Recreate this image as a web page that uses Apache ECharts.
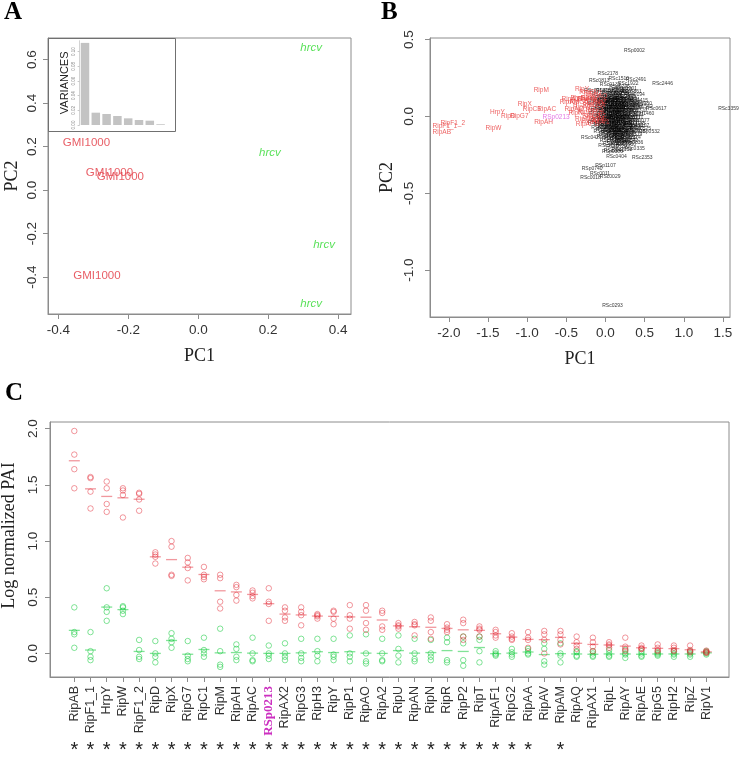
<!DOCTYPE html>
<html><head><meta charset="utf-8">
<script src="https://cdn.jsdelivr.net/npm/echarts@6/dist/echarts.min.js"></script>
<style>html,body{margin:0;padding:0;background:#fff}#c{width:740px;height:757px}</style>
</head><body><div id="c"></div>
<script>
// ---------- Panel A ----------
const pcaGMI = [['GMI1000',-0.32,0.216],['GMI1000',-0.254,0.078],['GMI1000',-0.223,0.06],['GMI1000',-0.29,-0.395]];
const pcaHrcv = [['hrcv',0.323,0.653],['hrcv',0.205,0.17],['hrcv',0.36,-0.253],['hrcv',0.323,-0.524]];
const varianceComp = ['1','2','3','4','5','6','7','8'];
const varianceVals = [0.112,0.0168,0.015,0.0123,0.0091,0.0068,0.0059,0.001];
const ticksAx = [-0.4,-0.2,0,0.2,0.4];
const ticksAy = [-0.4,-0.2,0,0.2,0.4,0.6];
const ticksInset = [0,0.02,0.04,0.06,0.08,0.10];
// ---------- Panel B ----------
const ripPos = [
 ['RipAB',-2.09,-0.10],['RipF1_1',-2.05,-0.065],['RipF1_2',-1.95,-0.045],['HrpY',-1.38,0.03],['RipW',-1.43,-0.08],
 ['RipD',-1.24,0.0],['RipG7',-1.10,0.0],['RipX',-1.03,0.08],['RipC1',-0.94,0.05],['RipM',-0.82,0.17],
 ['RipAC',-0.75,0.045],['RipAH',-0.79,-0.04],
 ['RipAX2',-0.42,0.11],['RipG3',-0.33,0.12],['RipH3',-0.24,0.11],['RipY',-0.30,0.18],['RipP1',-0.22,0.16],
 ['RipAO',-0.40,0.05],['RipA2',-0.30,0.06],['RipU',-0.20,0.07],['RipAN',-0.15,0.10],['RipN',-0.38,0.02],
 ['RipR',-0.26,0.03],['RipP2',-0.14,0.04],['RipT',-0.30,-0.02],['RipAF1',-0.24,-0.05],['RipG2',-0.18,0.0],
 ['RipAA',-0.12,0.07],['RipAV',-0.12,0.0],['RipAM',-0.46,0.09],['RipAQ',-0.10,0.13],['RipAX1',-0.16,-0.03],
 ['RipL',-0.08,0.03],['RipAY',-0.20,0.12],['RipAE',-0.10,-0.02],['RipG5',-0.34,0.09],['RipH2',-0.16,0.15],
 ['RipZ',-0.07,0.09],['RipV1',-0.06,-0.04]
];
const rspPos = [['RSp0213',-0.63,-0.005]];
const rsGenes = [
 ['RSp0002',0.37,0.43],['RSc2178',0.03,0.28],['RSc0813',-0.08,0.23],['RSc1510',0.17,0.245],['RSc2491',0.39,0.24],
 ['RSc2446',0.73,0.21],['RSp1201',0.27,0.18],['RSc0914',-0.14,0.17],['RSc0617',0.65,0.05],['RSp1562',0.47,0.065],
 ['RSc3359',1.57,0.05],['RSp0532',0.56,-0.10],['RSc1107',0.43,-0.06],['RSc0427',-0.18,-0.14],['RSc0335',0.37,-0.21],
 ['RSp0300',0.09,-0.23],['RSc0404',0.14,-0.26],['RSc2353',0.47,-0.27],['RSp1107',0.0,-0.32],['RSp0740',-0.17,-0.34],
 ['RSc0011',-0.07,-0.37],['RSc0018',-0.19,-0.40],['RSc0029',0.06,-0.39],['RSc0293',0.09,-1.23],
 ['RSc0131',0.06,0.205],['RSc0245',0.18,0.195],['RSc1922',0.29,0.21],
 ['RSc0370',0.01,0.17],['RSc0512',0.11,0.165],['RSc1003',0.21,0.175],['RSp0861',0.33,0.16],
 ['RSc2210',-0.04,0.14],['RSc0658',0.07,0.135],['RSc1450',0.15,0.145],['RSc2805',0.26,0.13],['RSp0194',0.37,0.14],
 ['RSc0722',-0.07,0.11],['RSc0947',0.03,0.105],['RSc1188',0.12,0.115],['RSc1376',0.21,0.10],['RSc1691',0.31,0.11],['RSp0415',0.41,0.10],
 ['RSc0088',-0.09,0.08],['RSc0183',0.01,0.075],['RSc0299',0.09,0.085],['RSc0411',0.17,0.07],['RSc0576',0.26,0.08],['RSc0693',0.35,0.075],['RSp0980',0.46,0.085],
 ['RSc0812',-0.05,0.05],['RSc0930',0.05,0.045],['RSc1061',0.13,0.055],['RSc1174',0.22,0.04],['RSc1297',0.31,0.05],['RSp1320',0.40,0.04],
 ['RSc1402',-0.08,0.02],['RSc1533',0.02,0.015],['RSc1647',0.10,0.025],['RSc1759',0.18,0.01],['RSc1866',0.27,0.02],['RSc1971',0.36,0.01],['RSp1460',0.49,0.015],
 ['RSc2083',-0.04,-0.01],['RSc2196',0.05,-0.015],['RSc2302',0.14,-0.005],['RSc2418',0.23,-0.02],['RSc2527',0.32,-0.01],['RSp0077',0.43,-0.025],
 ['RSc2639',-0.09,-0.04],['RSc2741',0.01,-0.045],['RSc2856',0.10,-0.035],['RSc2963',0.19,-0.05],['RSc3071',0.28,-0.04],['RSc3185',0.38,-0.05],
 ['RSc3290',-0.05,-0.07],['RSc0052',0.04,-0.075],['RSc0163',0.13,-0.065],['RSc0278',0.22,-0.08],['RSc0389',0.33,-0.07],['RSp0525',0.45,-0.08],
 ['RSc0494',-0.02,-0.10],['RSc0605',0.08,-0.105],['RSc0716',0.17,-0.095],['RSc0827',0.27,-0.11],['RSc0938',0.38,-0.10],
 ['RSc1049',0.02,-0.13],['RSc1152',0.12,-0.135],['RSc1263',0.22,-0.125],['RSc1374',0.32,-0.14],
 ['RSc1485',0.06,-0.16],['RSc1596',0.15,-0.165],['RSc1607',0.25,-0.155],['RSp0636',0.35,-0.17],
 ['RSc1718',0.04,-0.19],['RSc1829',0.14,-0.195],['RSc1930',0.26,-0.185],
 ['RSc2041',0.11,-0.22],['RSc2152',0.21,-0.215],
 ['RSc0104',0.00,0.125],['RSc0117',0.09,0.12],['RSc0128',0.18,0.13],['RSc0139',0.27,0.115],
 ['RSc0141',-0.03,0.095],['RSc0152',0.06,0.10],['RSc0166',0.14,0.09],['RSc0177',0.23,0.095],['RSc0188',0.32,0.09],
 ['RSc0195',-0.01,0.06],['RSc0206',0.08,0.065],['RSc0217',0.16,0.055],['RSc0228',0.25,0.06],['RSc0239',0.34,0.055],
 ['RSc0241',-0.06,0.035],['RSc0253',0.04,0.03],['RSc0264',0.12,0.035],['RSc0275',0.20,0.025],['RSc0286',0.29,0.035],
 ['RSc0297',0.00,0.0],['RSc0308',0.08,0.005],['RSc0319',0.17,-0.01],['RSc0320',0.26,0.005],['RSc0331',0.35,-0.005],
 ['RSc0342',-0.06,-0.025],['RSc0353',0.03,-0.03],['RSc0364',0.12,-0.02],['RSc0375',0.21,-0.035],['RSc0386',0.30,-0.025],
 ['RSc0397',-0.02,-0.055],['RSc0408',0.07,-0.06],['RSc0419',0.16,-0.05],['RSc0420',0.25,-0.065],['RSc0431',0.35,-0.06],
 ['RSc0442',0.01,-0.085],['RSc0453',0.11,-0.09],['RSc0464',0.20,-0.08],['RSc0475',0.30,-0.09],
 ['RSc0486',0.05,-0.115],['RSc0497',0.15,-0.12],['RSc0508',0.24,-0.105],['RSc0519',0.34,-0.12],
 ['RSc0521',0.09,-0.145],['RSc0532',0.19,-0.15],['RSc0543',0.29,-0.16],['RSc0554',0.10,-0.18],['RSc0565',0.20,-0.175],
 ['RSc0601',0.03,0.11],['RSc0612',0.13,0.105],['RSc0623',0.22,0.115],['RSc0634',0.02,0.085],['RSc0645',0.11,0.075],
 ['RSc0656',0.20,0.085],['RSc0667',0.29,0.07],['RSc0678',0.03,0.055],['RSc0689',0.12,0.045],['RSc0690',0.21,0.055],
 ['RSc0701',0.06,0.02],['RSc0712',0.15,0.015],['RSc0723',0.23,0.03],['RSc0734',0.02,-0.005],['RSc0745',0.10,-0.01],
 ['RSc0756',0.19,0.0],['RSc0767',0.28,-0.005],['RSc0778',0.05,-0.04],['RSc0789',0.14,-0.035],['RSc0790',0.23,-0.045],
 ['RSc0801',0.03,-0.065],['RSc0812',0.12,-0.075],['RSc0823',0.21,-0.06],['RSc0834',0.07,-0.09],['RSc0845',0.16,-0.105],
 ['RSc0856',0.25,-0.09],['RSc0867',0.09,-0.125],['RSc0878',0.18,-0.13],['RSc0889',0.27,-0.135],['RSc0890',0.08,0.15],
 ['RSc0901',0.16,0.16],['RSc0912',0.24,0.15]
];
const ticksBx = [-2,-1.5,-1,-0.5,0,0.5,1,1.5];
const ticksBy = [-1,-0.5,0,0.5];
// ---------- Panel C ----------
const categories = ['RipAB','RipF1_1','HrpY','RipW','RipF1_2','RipD','RipX','RipG7','RipC1','RipM','RipAH','RipAC','RSp0213','RipAX2','RipG3','RipH3','RipY','RipP1','RipAO','RipA2','RipU','RipAN','RipN','RipR','RipP2','RipT','RipAF1','RipG2','RipAA','RipAV','RipAM','RipAQ','RipAX1','RipL','RipAY','RipAE','RipG5','RipH2','RipZ','RipV1'];
const paiGMI = [
 [1.98,1.77,1.64,1.47],[1.57,1.56,1.44,1.29],[1.53,1.47,1.33,1.26],[1.47,1.45,1.41,1.21],[1.43,1.42,1.37,1.27],
 [0.90,0.88,0.86,0.80],[1.00,0.95,0.70,0.69],[0.85,0.81,0.76,0.65],[0.77,0.70,0.68,0.66],[0.70,0.67,0.46,0.40],
 [0.61,0.59,0.52,0.47],[0.56,0.54,0.51,0.49],[0.58,0.46,0.44,0.29],[0.41,0.38,0.32,0.29],[0.41,0.37,0.34,0.25],
 [0.35,0.34,0.33,0.31],[0.38,0.37,0.31,0.26],[0.43,0.34,0.31,0.22],[0.43,0.38,0.27,0.21],[0.38,0.36,0.24,0.21],
 [0.27,0.25,0.24,0.22],[0.28,0.26,0.25,0.16],[0.32,0.29,0.19,0.13],[0.26,0.23,0.21,0.19],[0.30,0.27,0.15,0.12],
 [0.24,0.22,0.21,0.15],[0.21,0.19,0.16,0.14],[0.18,0.15,0.13,0.12],[0.19,0.14,0.12,0.05],[0.20,0.17,0.12,0.0],
 [0.20,0.17,0.12,0.08],[0.15,0.10,0.07,0.04],[0.14,0.10,0.06,0.02],[0.10,0.08,0.07,0.05],[0.14,0.06,0.04,0.02],
 [0.07,0.05,0.04,0.04],[0.08,0.05,0.03,0.02],[0.07,0.05,0.03,0.02],[0.07,0.03,0.02,0.01],[0.025,0.015,0.01,0.005]
];
const paiHrcv = [
 [0.41,0.19,0.17,0.05],[0.19,0.02,-0.03,-0.06],[0.58,0.41,0.37,0.29],[0.42,0.41,0.38,0.35],[0.12,0.03,-0.03,-0.05],
 [0.11,0.0,-0.03,-0.08],[0.18,0.13,0.10,0.05],[0.11,-0.02,-0.05,-0.07],[0.14,0.03,0.0,-0.03],[0.22,0.02,-0.10,-0.12],
 [0.08,0.04,-0.03,-0.06],[0.14,0.0,-0.06,-0.07],[0.07,0.0,-0.02,-0.05],[0.09,0.0,-0.03,-0.06],[0.13,0.0,-0.04,-0.07],
 [0.13,0.02,-0.02,-0.07],[0.13,-0.01,-0.03,-0.06],[0.16,0.0,-0.03,-0.07],[0.17,0.0,-0.07,-0.09],[0.13,0.0,-0.06,-0.07],
 [0.16,0.04,-0.02,-0.08],[0.13,0.0,-0.05,-0.07],[0.12,0.0,-0.03,-0.06],[0.14,0.10,-0.06,-0.08],[0.15,0.09,-0.06,-0.11],
 [0.15,0.12,0.02,-0.08],[0.02,0.0,-0.01,-0.02],[0.04,0.01,-0.01,-0.03],[0.04,0.02,0.0,-0.01],[0.09,0.04,-0.07,-0.10],
 [0.09,0.0,-0.02,-0.08],[0.02,0.01,-0.02,-0.03],[0.02,0.0,-0.02,-0.03],[0.03,0.0,-0.02,-0.03],[0.03,0.0,-0.01,-0.04],
 [0.02,0.0,-0.02,-0.03],[0.01,0.0,-0.01,-0.02],[0.02,0.0,-0.01,-0.03],[0.02,0.0,-0.01,-0.03],[0.02,0.01,0.0,-0.01]
];
const significant = [1,1,1,1,1,1,1,1,1,1,1,1,1,1,1,1,1,1,1,1,1,1,1,1,1,1,1,1,1,0,1,0,0,0,0,0,0,0,0,0];
const ticksCy = [0,0.5,1,1.5,2];

// ---------- build ----------
const catIdx = categories.map((_, i) => i);
const starIdx = catIdx.filter(i => significant[i] === 1);
const mean = a => a.reduce((s, v) => s + v, 0) / a.length;
const pts = arr => { const o = []; arr.forEach((a, i) => a.forEach(v => o.push([i, v]))); return o; };
const means = arr => arr.map((a, i) => [i, mean(a)]);
const lbl = arr => arr.map(d => ({ name: d[0], value: [d[1], d[2]] }));

const GRID = '#8c8c8c', TXT = '#333';
const serif = 'Liberation Serif';
const fmt1 = v => (Math.abs(v) < 1e-9 ? 0 : v).toFixed(1);
const lineOn = { show: true, onZero: false, lineStyle: { color: GRID, width: 1 } };

function valAxis(g, min, max, ticks, extra) {
  return Object.assign({
    gridIndex: g, type: 'value', min: min, max: max,
    axisLine: lineOn, splitLine: { show: false },
    axisTick: { show: true, customValues: ticks, length: 5, lineStyle: { color: GRID } },
    axisLabel: { customValues: ticks, formatter: fmt1, fontSize: 13.5, color: TXT, margin: 9, fontFamily: 'Liberation Sans' }
  }, extra || {});
}
const nameStyle = { fontFamily: serif, fontSize: 18, color: '#222' };

const textScatter = (data, xi, yi, style, z) => ({
  type: 'scatter', xAxisIndex: xi, yAxisIndex: yi, data: data, symbolSize: 1, silent: true, z: z || 3,
  itemStyle: { color: 'rgba(0,0,0,0)' },
  label: Object.assign({ show: true, position: 'inside', formatter: '{b}', fontFamily: 'Liberation Sans' }, style)
});

const RED = 'rgba(226,40,52,0.6)', GREEN = 'rgba(30,205,70,0.7)';
const circles = (data, col) => ({
  type: 'scatter', xAxisIndex: 2, yAxisIndex: 2, data: data, symbol: 'circle', symbolSize: 5.5, silent: true,
  itemStyle: { color: 'rgba(0,0,0,0)', borderColor: col, borderWidth: 1 }
});
const dashes = (data, col) => ({
  type: 'scatter', xAxisIndex: 2, yAxisIndex: 2, data: data, symbol: 'rect', symbolSize: [11, 1.3], silent: true,
  itemStyle: { color: col }
});

const gridBase = { show: true, borderColor: GRID, borderWidth: 1, containLabel: false, outerBoundsMode: 'none', backgroundColor: 'transparent' };

const option = {
  animation: false,
  backgroundColor: '#fff',
  textStyle: { fontFamily: 'Liberation Sans' },
  title: [
    { text: 'A', left: 4, top: 0, padding: 0, textStyle: { fontFamily: serif, fontWeight: 'bold', fontSize: 25, color: '#000' } },
    { text: 'B', left: 381, top: 0, padding: 0, textStyle: { fontFamily: serif, fontWeight: 'bold', fontSize: 25, color: '#000' } },
    { text: 'C', left: 5, top: 381, padding: 0, textStyle: { fontFamily: serif, fontWeight: 'bold', fontSize: 25, color: '#000' } }
  ],
  grid: [
    Object.assign({ left: 48, top: 38, width: 303, height: 276 }, gridBase),
    Object.assign({ left: 430, top: 38, width: 300, height: 279 }, gridBase),
    Object.assign({ left: 50, top: 422, width: 679, height: 255 }, gridBase),
    { left: 79.6, top: 40.7, width: 86.4, height: 84.3, show: false, containLabel: false, outerBoundsMode: 'none' }
  ],
  graphic: [{ type: 'rect', shape: { x: 48.5, y: 38.5, width: 127, height: 93 }, style: { fill: 'none', stroke: '#707070', lineWidth: 1 }, z: 10, silent: true }],
  xAxis: [
    valAxis(0, -0.43, 0.437, ticksAx, { name: 'PC1', nameLocation: 'middle', nameGap: 33, nameTextStyle: nameStyle }),
    valAxis(1, -2.24, 1.59, ticksBx, { name: 'PC1', nameLocation: 'middle', nameGap: 33, nameTextStyle: nameStyle }),
    {
      gridIndex: 2, type: 'value', min: -1.5, max: 40.4,
      axisLine: lineOn, splitLine: { show: false },
      axisTick: { show: true, customValues: catIdx, length: 5, lineStyle: { color: GRID } },
      axisLabel: {
        customValues: catIdx, rotate: 90, margin: 9, fontSize: 12.5, color: TXT,
        formatter: v => { const n = categories[Math.round(v)]; return n === 'RSp0213' ? '{m|' + n + '}' : n; },
        rich: { m: { color: '#cc2fc0', fontFamily: serif, fontWeight: 'bold', fontSize: 13 } }
      }
    },
    {
      gridIndex: 2, type: 'value', min: -1.5, max: 40.4, position: 'bottom',
      axisLine: { show: false, onZero: false }, axisTick: { show: false }, splitLine: { show: false },
      axisLabel: { customValues: starIdx, formatter: () => '*', fontSize: 20, color: '#222', margin: 63 }
    },
    { gridIndex: 3, type: 'category', data: varianceComp, show: false }
  ],
  yAxis: [
    valAxis(0, -0.57, 0.70, ticksAy, { name: 'PC2', nameLocation: 'middle', nameGap: 27, nameTextStyle: nameStyle,
      axisLabel: { customValues: ticksAy, formatter: fmt1, fontSize: 13.5, color: TXT, margin: 9, rotate: 90 } }),
    valAxis(1, -1.305, 0.51, ticksBy, { name: 'PC2', nameLocation: 'middle', nameGap: 34, nameTextStyle: nameStyle,
      axisLabel: { customValues: ticksBy, formatter: fmt1, fontSize: 13.5, color: TXT, margin: 14, rotate: 90 } }),
    valAxis(2, -0.21, 2.06, ticksCy, { name: 'Log normalized PAI', nameLocation: 'middle', nameGap: 27, nameTextStyle: Object.assign({}, nameStyle, { padding: [0, 0, 0, 28] }),
      axisLabel: { customValues: ticksCy, formatter: fmt1, fontSize: 13.5, color: TXT, margin: 10, rotate: 90 } }),
    {
      gridIndex: 3, type: 'value', min: 0, max: 0.115, z: 12,
      axisLine: { show: true, onZero: false, lineStyle: { color: '#c8c8c8', width: 0.8 } },
      axisTick: { show: true, customValues: ticksInset, length: 2, lineStyle: { color: '#c8c8c8' } },
      axisLabel: { customValues: ticksInset, rotate: 90, fontSize: 4.5, color: '#888', margin: 3, formatter: v => v.toFixed(2) },
      splitLine: { show: false },
      name: 'VARIANCES', nameLocation: 'middle', nameGap: 9, nameTextStyle: { fontSize: 11, color: '#222' }
    }
  ],
  series: [
    textScatter(lbl(pcaGMI), 0, 0, { fontSize: 11.5, color: '#e2343f' }),
    textScatter(lbl(pcaHrcv), 0, 0, { fontSize: 11.5, color: '#2fd92f', fontStyle: 'italic' }),
    { type: 'bar', xAxisIndex: 4, yAxisIndex: 3, data: varianceVals, barWidth: 8.5, silent: true, z: 12, itemStyle: { color: '#c3c3c3' } },
    textScatter(lbl(rsGenes), 1, 1, { fontSize: 5, color: '#000' }, 3),
    textScatter(lbl(ripPos), 1, 1, { fontSize: 6.5, color: '#e83a3a' }, 4),
    textScatter(lbl(rspPos), 1, 1, { fontSize: 6.5, color: '#dd55dd' }, 5),
    circles(pts(paiHrcv), GREEN),
    dashes(means(paiHrcv), GREEN),
    circles(pts(paiGMI), RED),
    dashes(means(paiGMI), RED)
  ]
};
const chart = echarts.init(document.getElementById('c'), null, { renderer: 'canvas' });
chart.setOption(option);
</script></body></html>
